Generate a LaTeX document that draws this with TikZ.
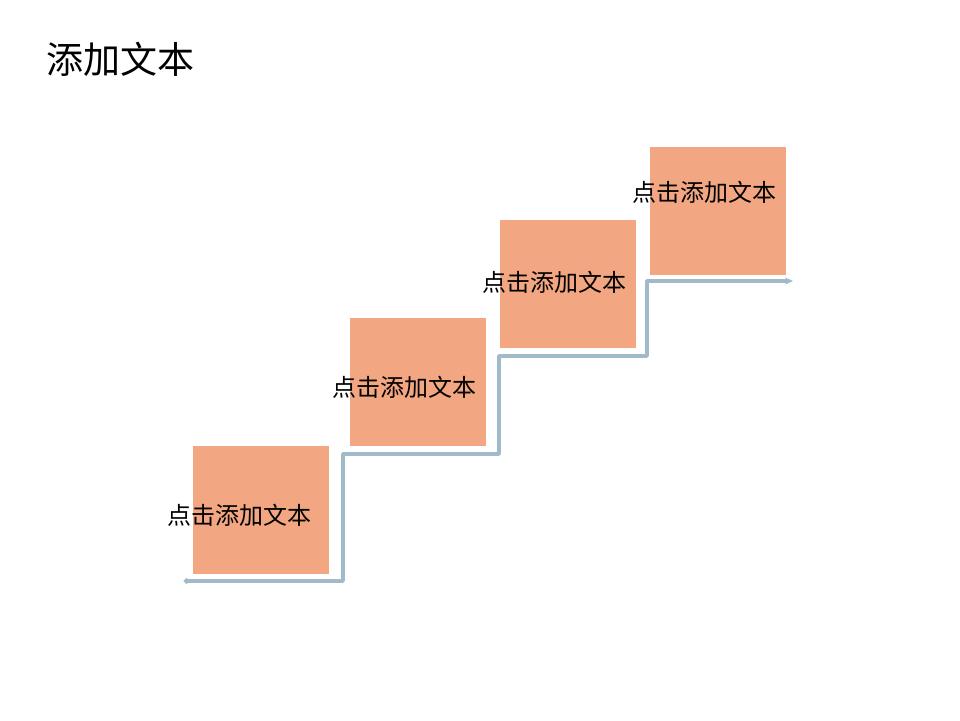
\documentclass[tikz,border=0pt]{standalone}
\usepackage{fontspec}
\newfontfamily\cjk{Noto Sans CJK SC}
\usetikzlibrary{arrows.meta}
\definecolor{boxfill}{RGB}{242,167,130}
\definecolor{stair}{RGB}{160,186,202}
\tikzset{
  stepbox/.style={fill=boxfill, draw=white, line width=1pt, minimum width=137pt, minimum height=129pt, inner sep=0pt, anchor=north west},
  steptext/.style={font=\cjk\fontsize{24}{27}\selectfont, text=black, inner sep=0pt},
  stairline/.style={draw=stair, line width=3.6pt, line join=round, {Circle[length=5pt,width=5pt]}-{Stealth[length=8pt,width=7pt]}}
}
\begin{document}
\begin{tikzpicture}[x=1pt,y=-1pt]
\useasboundingbox (0,0) rectangle (960,720);
\node[font=\cjk\fontsize{37}{40}\selectfont, anchor=west, inner sep=0pt] (title) at (46,59) {添加文本};
\node[stepbox] (b1) at (192,445) {};
\node[stepbox] (b2) at (349,317) {};
\node[stepbox] (b3) at (499,219) {};
\node[stepbox] (b4) at (649,146) {};
\node[steptext] (t1) at (239,515) {点击添加文本};
\node[steptext] (t2) at (404,387) {点击添加文本};
\node[steptext] (t3) at (554,282) {点击添加文本};
\node[steptext] (t4) at (704,192) {点击添加文本};
\coordinate (s0) at (184,581);
\coordinate (s1) at (343,581);
\coordinate (s2) at (343,454);
\coordinate (s3) at (499,454);
\coordinate (s4) at (499,356);
\coordinate (s5) at (647,356);
\coordinate (s6) at (647,281);
\coordinate (s7) at (793,281);
\draw[stairline] (s0) -- (s1) -- (s2) -- (s3) -- (s4) -- (s5) -- (s6) -- (s7);
\end{tikzpicture}
\end{document}
